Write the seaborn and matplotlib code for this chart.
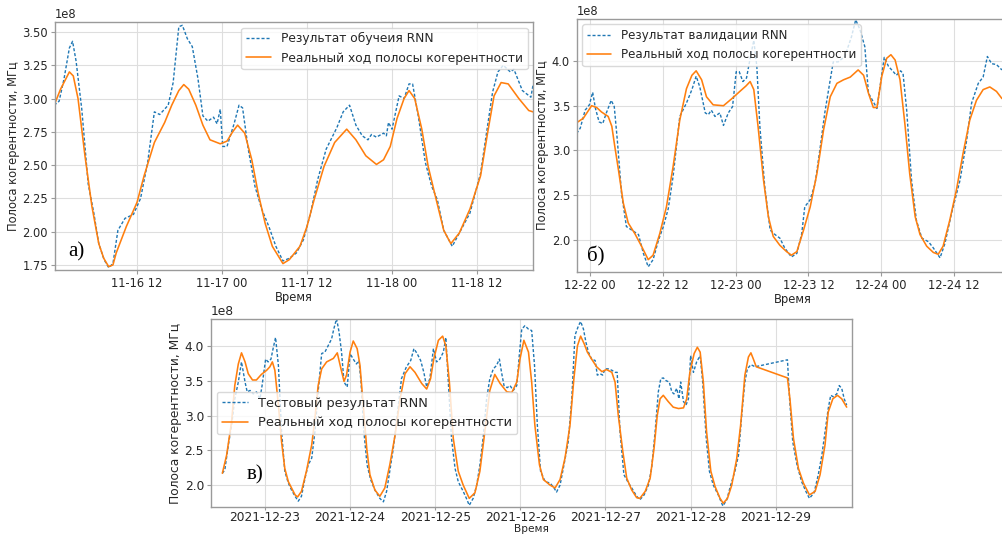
import matplotlib
matplotlib.use("Agg")
import numpy as np
import pandas as pd
import matplotlib.pyplot as plt
import matplotlib.dates as mdates
from matplotlib.ticker import MultipleLocator
import seaborn as sns

# ---------------- data (values in units of 1e8 MHz, time offsets in hours) ----------------
# Panel a: training, hours from 2021-11-16 00:00
a_rnn_h = [0.3, 1.0, 1.7, 2.45, 2.9, 3.4, 4.2, 5.1, 5.9, 6.6, 7.35, 8.0, 8.6, 9.3, 10.3,
           11.5, 12.5, 13.5, 14.45, 15.2, 16.4, 17.1, 17.9, 18.4, 19.1, 19.8, 20.6, 21.3, 22.0, 22.8,
           23.3, 23.75, 24.1, 24.7, 25.7, 26.4, 26.9, 27.7, 28.65, 29.6, 30.6, 31.6, 32.6, 33.5, 34.5,
           35.5, 36.5, 37.5, 38.7, 40.2, 41.1, 42.0, 42.9, 43.8, 44.6, 45.1, 45.8, 46.8, 47.2, 47.5,
           48.0, 49.0, 49.7, 50.4, 50.9, 51.7, 52.7, 53.6, 54.4, 55.3, 56.5, 57.5, 59.0, 60.5, 61.5,
           62.2, 62.95, 63.7, 64.7, 65.2, 66.4, 67.6, 67.9]
a_rnn_v = [2.95, 2.98, 3.15, 3.38, 3.43, 3.28, 2.92, 2.36, 2.14, 1.91, 1.79, 1.73, 1.76, 2.01, 2.10,
           2.13, 2.25, 2.52, 2.90, 2.88, 2.95, 3.12, 3.54, 3.55, 3.45, 3.39, 3.15, 2.87, 2.83, 2.86,
           2.81, 2.92, 2.64, 2.64, 2.81, 2.95, 2.93, 2.62, 2.34, 2.17, 2.04, 1.89, 1.78, 1.80, 1.84,
           1.94, 2.14, 2.39, 2.62, 2.78, 2.90, 2.95, 2.80, 2.72, 2.69, 2.73, 2.71, 2.74, 2.72, 2.82,
           2.77, 3.02, 3.00, 3.11, 3.11, 2.87, 2.52, 2.34, 2.24, 2.01, 1.89, 1.99, 2.14, 2.44, 2.80,
           3.05, 3.20, 3.25, 3.20, 3.22, 3.06, 3.01, 3.10]
a_real_h = [0.3, 1.2, 2.45, 3.0, 3.67, 4.65, 5.63, 6.6, 7.3, 8.0, 8.6, 9.06, 10.5, 12.0, 13.0,
            14.45, 15.9, 16.9, 17.9, 18.6, 19.3, 20.3, 21.3, 22.3, 23.75, 24.7, 25.5, 26.2, 27.2, 28.2,
            29.1, 30.1, 31.1, 32.6, 33.5, 35.0, 36.0, 37.0, 38.4, 39.9, 41.6, 42.9, 44.3, 45.8, 46.8,
            47.75, 48.7, 49.7, 50.4, 51.2, 52.2, 53.1, 54.1, 55.3, 56.3, 57.5, 59.0, 60.5, 61.5, 62.4,
            63.4, 64.4, 65.9, 67.3, 67.9]
a_real_v = [2.95, 3.07, 3.20, 3.17, 3.00, 2.57, 2.19, 1.91, 1.80, 1.737, 1.75, 1.84, 2.04, 2.22, 2.42,
            2.67, 2.82, 2.95, 3.06, 3.105, 3.07, 2.95, 2.80, 2.69, 2.66, 2.68, 2.75, 2.80, 2.74, 2.54,
            2.29, 2.06, 1.89, 1.76, 1.79, 1.89, 2.04, 2.24, 2.49, 2.67, 2.77, 2.69, 2.57, 2.505, 2.54,
            2.64, 2.85, 3.00, 3.06, 3.00, 2.77, 2.49, 2.27, 2.01, 1.91, 1.99, 2.17, 2.42, 2.745, 3.02,
            3.12, 3.11, 3.00, 2.91, 2.90]

# Panel b: validation, hours from 2021-12-22 00:00
b_rnn_h = [-2.2, -1.6, -0.8, -0.1, 0.44, 0.9, 1.5, 2.1, 2.7, 3.5, 4.0, 4.5, 5.2, 6.0, 6.9,
           8.0, 8.8, 9.6, 10.4, 11.3, 12.1, 12.9, 13.7, 14.8, 15.9, 16.8, 17.5, 18.1, 19.0, 19.5,
           20.0, 20.6, 21.4, 22.0, 22.8, 23.5, 24.1, 24.6, 25.2, 25.8, 26.4, 27.0, 27.5, 28.0, 28.8,
           29.7, 30.5, 31.3, 32.1, 33.2, 34.1, 34.9, 35.4, 36.3, 37.1, 37.9, 38.7, 39.6, 40.1, 40.9,
           42.0, 43.1, 43.8, 44.5, 45.3, 45.9, 46.4, 47.3, 47.8, 48.5, 49.2, 50.0, 50.5, 51.2, 51.6,
           52.2, 53.0, 53.8, 54.7, 55.8, 56.6, 57.7, 58.5, 59.6, 61.0, 62.1, 62.9, 64.0, 64.8, 65.5,
           66.2, 67.0, 67.9]
b_rnn_v = [3.19, 3.25, 3.45, 3.51, 3.65, 3.47, 3.32, 3.30, 3.42, 3.56, 3.49, 3.12, 2.52, 2.15, 2.11,
           2.06, 1.85, 1.70, 1.78, 2.00, 2.15, 2.35, 2.71, 3.38, 3.53, 3.68, 3.83, 3.71, 3.42, 3.40,
           3.45, 3.38, 3.42, 3.28, 3.42, 3.49, 3.88, 3.88, 3.77, 3.81, 4.03, 4.23, 3.94, 3.27, 2.60,
           2.11, 2.06, 2.02, 1.91, 1.81, 1.85, 2.07, 2.37, 2.45, 2.63, 3.01, 3.42, 3.79, 3.99, 3.99,
           4.05, 4.27, 4.46, 4.35, 4.16, 3.64, 3.58, 3.47, 3.71, 4.04, 3.94, 3.88, 3.84, 3.89, 3.86,
           3.45, 2.67, 2.22, 2.02, 1.98, 1.91, 1.80, 1.96, 2.30, 2.67, 3.12, 3.53, 3.75, 3.82, 4.05,
           3.97, 3.96, 3.90]
b_real_h = [-2.2, -1.1, 0.27, 1.1, 1.9, 3.0, 3.6, 4.1, 4.7, 5.5, 6.3, 7.4, 8.5, 9.6, 10.4,
            11.5, 12.6, 13.7, 14.8, 15.9, 16.8, 17.5, 18.4, 19.2, 20.3, 22.0, 23.4, 24.7, 25.7, 26.4,
            27.0, 27.7, 28.6, 29.4, 30.2, 31.3, 32.4, 33.2, 34.1, 35.2, 36.3, 37.4, 38.5, 39.6, 40.7,
            41.8, 42.9, 44.2, 45.1, 45.9, 46.7, 47.3, 48.1, 48.9, 49.6, 50.3, 51.1, 51.9, 52.7, 53.6,
            54.4, 55.5, 56.6, 57.4, 58.2, 59.3, 60.4, 61.5, 62.6, 63.7, 64.8, 65.9, 67.0, 67.9]
b_real_v = [3.31, 3.36, 3.50, 3.48, 3.43, 3.38, 3.27, 3.04, 2.78, 2.41, 2.19, 2.07, 1.93, 1.78, 1.83,
            2.07, 2.37, 2.82, 3.34, 3.69, 3.84, 3.89, 3.79, 3.60, 3.51, 3.50, 3.58, 3.66, 3.72, 3.77,
            3.68, 3.27, 2.67, 2.26, 2.04, 1.94, 1.87, 1.83, 1.87, 2.11, 2.37, 2.74, 3.23, 3.60, 3.75,
            3.79, 3.82, 3.90, 3.84, 3.64, 3.48, 3.48, 3.83, 4.03, 4.07, 4.01, 3.79, 3.30, 2.74, 2.26,
            2.06, 1.93, 1.86, 1.84, 1.93, 2.22, 2.56, 2.97, 3.34, 3.56, 3.68, 3.71, 3.66, 3.58]

# Panel c: test, hours from 2021-12-23 00:00
c_rnn_h = [-12.0, -11.3, -10.3, -9.4, -8.5, -7.5, -6.6, -5.6, -5.0, -4.2, -3.3, -2.4, -1.4, -0.8, 0.2,
           0.9, 1.7, 2.3, 3.0, 3.8, 4.7, 5.6, 6.6, 7.5, 8.5, 9.4, 10.3, 11.3, 12.2, 13.2,
           14.1, 15.0, 16.0, 16.9, 17.8, 18.8, 19.4, 20.2, 20.9, 21.6, 22.3, 23.2, 24.0, 24.9, 25.8,
           26.5, 27.1, 27.9, 28.8, 29.8, 31.0, 32.4, 33.4, 34.3, 35.2, 36.2, 37.3, 38.5, 39.9, 41.1,
           42.0, 42.9, 43.9, 44.8, 45.6, 46.5, 47.5, 48.4, 49.3, 50.3, 51.0, 51.7, 52.6, 53.6, 54.5,
           55.9, 56.8, 57.6, 58.7, 59.7, 60.6, 61.6, 62.5, 63.4, 64.4, 65.3, 66.1,
           66.7, 67.4, 68.3, 69.1, 70.0, 71.0, 71.7, 72.4, 73.3, 74.3, 75.2, 76.0, 76.8, 77.7, 79.0,
           80.4, 81.5, 82.2, 83.2, 84.3, 85.5, 86.5, 87.4, 88.4, 89.0, 89.8, 90.5, 91.2, 92.1, 93.1,
           93.7, 94.5, 95.2, 95.9, 96.8, 97.8, 98.7, 99.3, 100.1, 101.2, 102.5, 103.4, 104.8, 105.7, 106.9,
           108.1, 109.0, 110.0, 110.9, 111.6, 112.3, 113.1, 114.0, 114.7, 115.3, 116.1, 116.7, 117.2, 118.0, 118.7,
           119.4, 120.0, 120.8, 121.7, 122.7, 123.4, 124.4, 125.3, 126.4, 127.8, 129.1, 130.2, 131.3, 132.5, 133.5,
           134.4, 135.3, 136.0, 137.0, 138.2, 147.3, 147.9, 148.8, 150.0, 151.3, 152.5, 153.5, 154.8, 156.0, 157.0,
           157.9, 158.8, 159.5, 160.2, 161.2, 161.9, 162.6, 163.3, 164.0]
c_rnn_v = [2.17, 2.22, 2.58, 2.86, 3.24, 3.48, 3.77, 3.48, 3.34, 3.36, 3.31, 3.34, 3.24, 3.43, 3.81,
           3.77, 3.81, 3.96, 4.12, 3.72, 2.77, 2.20, 2.03, 1.93, 1.84, 1.77, 1.84, 2.10, 2.29, 2.39,
           2.77, 3.34, 3.89, 3.91, 4.00, 4.10, 4.24, 4.39, 4.20, 3.91, 3.48, 3.41, 3.89, 3.81, 3.74,
           3.79, 3.48, 2.77, 2.29, 2.08, 1.93, 1.81, 1.76, 1.91, 2.20, 2.53, 3.00, 3.53, 3.70, 3.79,
           3.96, 3.89, 3.79, 3.62, 3.41, 3.53, 3.96, 3.77, 3.81, 3.91, 4.12, 3.48, 2.67, 2.24, 2.05,
           1.91, 1.81, 1.71, 1.81, 2.00, 2.29, 2.72, 3.24, 3.53, 3.67, 3.72, 3.81,
           3.62, 3.43, 3.40, 3.43, 3.36, 3.43, 3.86, 4.24, 4.29, 4.24, 4.22, 3.72, 2.86, 2.20, 2.05,
           2.03, 1.96, 1.90, 2.00, 2.29, 2.62, 3.24, 4.15, 4.29, 4.35, 4.24, 4.05, 3.91, 3.81, 3.79,
           3.58, 3.60, 3.58, 3.67, 3.67, 3.65, 3.62, 3.62, 2.77, 2.15, 2.03, 1.96, 1.84, 1.79, 1.86,
           2.00, 2.24, 2.77, 3.34, 3.53, 3.54, 3.50, 3.48, 3.34, 3.31, 3.39, 3.24, 3.48, 3.20, 3.15,
           3.24, 3.86, 3.62, 3.77, 3.86, 3.48, 2.67, 2.20, 2.00, 1.86, 1.70, 1.79, 2.00, 2.20, 2.43,
           3.00, 3.48, 3.67, 3.73, 3.70, 3.80, 3.24, 2.62, 2.29, 2.05, 1.91, 1.81, 1.89, 2.15, 2.43,
           2.77, 3.10, 3.29, 3.27, 3.31, 3.43, 3.39, 3.24, 3.15]
c_real_h = [-12.0, -10.8, -9.4, -8.5, -7.5, -6.6, -5.6, -4.7, -3.5, -2.4, -1.0, 0.5, 1.4, 2.1, 2.8,
            3.8, 4.7, 5.6, 6.6, 7.5, 8.5, 9.2, 10.3, 11.7, 13.2, 14.1, 15.0, 16.0, 17.4, 19.3,
            20.4, 21.3, 22.3, 23.0, 24.0, 24.9, 26.0, 26.8, 27.7, 28.7, 29.6, 31.0, 32.4, 33.8, 35.2,
            36.7, 38.1, 39.5, 40.9, 42.3, 44.2, 45.6, 46.7, 47.6, 48.9, 50.1, 51.0, 52.0, 53.1, 54.5,
            55.9, 57.6, 59.2, 60.6, 62.0, 63.4, 64.8, 66.3,
            68.2, 69.6, 71.0, 71.9, 73.0, 74.3, 75.2, 76.1, 77.4, 78.5, 80.4, 81.8, 83.2, 84.6, 86.0,
            87.1, 88.1, 89.0, 90.0, 90.9, 92.1, 93.5, 95.0, 96.3, 97.8, 98.7, 99.6, 100.9, 102.0, 103.4,
            104.8, 105.7, 107.2, 108.6, 109.7, 110.6, 111.4, 112.3, 113.7, 115.1, 116.6, 118.0, 118.9, 119.8, 121.0,
            121.9, 122.7, 123.6, 124.5, 125.7, 126.9, 128.3, 129.2, 130.4, 131.6, 133.0, 134.1, 135.3, 136.3, 137.0,
            137.7, 138.5, 147.3, 148.0, 149.0, 150.4, 151.8, 153.5, 155.1, 156.5, 157.9, 158.8, 160.1, 161.4, 162.6,
            164.0]
c_real_v = [2.17, 2.43, 2.91, 3.43, 3.74, 3.90, 3.77, 3.60, 3.51, 3.51, 3.59, 3.65, 3.70, 3.77, 3.65,
            3.15, 2.62, 2.24, 2.05, 1.96, 1.86, 1.83, 1.91, 2.20, 2.58, 2.96, 3.43, 3.67, 3.77, 3.82,
            3.90, 3.70, 3.49, 3.58, 3.91, 4.07, 3.96, 3.72, 3.15, 2.53, 2.15, 1.93, 1.84, 1.96, 2.29,
            2.72, 3.24, 3.60, 3.70, 3.62, 3.46, 3.38, 3.53, 3.81, 4.08, 4.14, 4.00, 3.48, 2.67, 2.20,
            2.00, 1.81, 1.89, 2.20, 2.77, 3.36, 3.59, 3.46,
            3.34, 3.33, 3.48, 3.81, 4.08, 3.91, 3.48, 2.86, 2.29, 2.08, 2.00, 1.96, 2.08, 2.39, 2.86,
            3.53, 4.00, 4.14, 4.03, 3.91, 3.81, 3.70, 3.63, 3.66, 3.62, 3.48, 3.01, 2.48, 2.10, 1.93,
            1.82, 1.81, 1.91, 2.10, 2.53, 3.00, 3.24, 3.29, 3.20, 3.12, 3.10, 3.11, 3.24, 3.62, 3.89,
            3.98, 3.91, 3.48, 2.77, 2.20, 1.98, 1.81, 1.74, 1.81, 2.00, 2.38, 2.86, 3.58, 3.84, 3.90,
            3.81, 3.70, 3.54, 3.24, 2.67, 2.24, 2.03, 1.86, 1.91, 2.15, 2.58, 3.05, 3.24, 3.29, 3.24,
            3.12]

LABEL_RNN = ["Результат обучеия RNN", "Результат валидации RNN", "Тестовый результат RNN"]
LABEL_REAL = "Реальный ход полосы когерентности"
Y_LABEL = "Полоса когерентности, МГц"
X_LABEL = "Время"
PANEL_TAGS = ["а)", "б)", "в)"]

# ---------------- style ----------------
sns.set_style("whitegrid", {"axes.edgecolor": "#9a9a9a", "grid.color": "#dedede",
                            "xtick.bottom": True, "ytick.left": True})
plt.rcParams["font.family"] = ["DejaVu Sans"]
plt.rcParams["xtick.color"] = "#9a9a9a"
plt.rcParams["ytick.color"] = "#9a9a9a"
plt.rcParams["xtick.labelcolor"] = "#262626"
plt.rcParams["ytick.labelcolor"] = "#262626"

W, H = 1002, 534
fig = plt.figure(figsize=(W / 100, H / 100), dpi=100)
fig.patch.set_facecolor("white")


def box(x0, y0, x1, y1):
    return [x0 / W, 1 - y1 / H, (x1 - x0) / W, (y1 - y0) / H]


def series(base, hours, vals):
    t = pd.Timestamp(base) + pd.to_timedelta(np.asarray(hours, float), unit="h")
    return pd.DataFrame({"t": t, "v": np.asarray(vals, float) * 1e8})


BLUE, ORANGE = "#1f77b4", "#ff7f0e"

panels = [
    dict(base="2021-11-16", rnn=(a_rnn_h, a_rnn_v), real=(a_real_h, a_real_v),
         pos=box(55, 22, 533, 270), xl=(0.42, 67.9), yl=(1.712, 3.575), ystep=0.25,
         fmt="%m-%d %H", loc="upper right", fs=8.3, lfs=8.8, tag=(68, 252), tagfs=15,
         tlen=3, tpad=2),
    dict(base="2021-12-22", rnn=(b_rnn_h, b_rnn_v), real=(b_real_h, b_real_v),
         pos=box(577, 19, 1008, 272), xl=(-2.14, 68.9), yl=(1.642, 4.469), ystep=0.5,
         fmt="%m-%d %H", loc="upper left", fs=8.3, lfs=8.6, tag=(587, 256), tagfs=15,
         tlen=3, tpad=2),
    dict(base="2021-12-23", rnn=(c_rnn_h, c_rnn_v), real=(c_real_h, c_real_v),
         pos=box(211, 319, 852, 507), xl=(-15.2, 165.5), yl=(1.686, 4.386), ystep=0.5,
         fmt="%Y-%m-%d", loc="center left", fs=8.8, lfs=9.3, tag=(247, 475), tagfs=15,
         tlen=2, tpad=1),
]

for i, p in enumerate(panels):
    ax = fig.add_axes(p["pos"])
    d_rnn = series(p["base"], *p["rnn"])
    d_real = series(p["base"], *p["real"])
    sns.lineplot(data=d_rnn, x="t", y="v", ax=ax, color=BLUE, lw=1.0, dashes=False,
                 estimator=None, sort=False, label=LABEL_RNN[i])
    ax.lines[-1].set_dashes((2.2, 1.4))
    sns.lineplot(data=d_real, x="t", y="v", ax=ax, color=ORANGE, lw=1.15,
                 estimator=None, sort=False, label=LABEL_REAL)
    base = pd.Timestamp(p["base"])
    ax.set_xlim(base + pd.Timedelta(hours=p["xl"][0]), base + pd.Timedelta(hours=p["xl"][1]))
    ax.set_ylim(p["yl"][0] * 1e8, p["yl"][1] * 1e8)
    ax.yaxis.set_major_locator(MultipleLocator(p["ystep"] * 1e8))
    if i < 2:
        ax.xaxis.set_major_locator(mdates.HourLocator(byhour=[0, 12]))
    else:
        ax.xaxis.set_major_locator(mdates.DayLocator())
    ax.xaxis.set_major_formatter(mdates.DateFormatter(p["fmt"]))
    ax.tick_params(labelsize=p["fs"], width=0.8)
    ax.tick_params(axis="y", length=3, pad=2)
    ax.tick_params(axis="x", length=p["tlen"], pad=p["tpad"])
    ax.yaxis.get_offset_text().set_fontsize(p["fs"])
    ax.set_ylabel(Y_LABEL, fontsize=p["fs"], labelpad=2, color="#262626")
    if i < 2:
        ax.set_xlabel(X_LABEL, fontsize=p["fs"], labelpad=1, color="#262626")
    else:
        ax.set_xlabel("")
        fig.text((211 + 852) / 2 / W, 0.0, X_LABEL, fontsize=7.6,
                 ha="center", va="bottom", color="#262626")
    for s in ax.spines.values():
        s.set_linewidth(1.0)
    leg = ax.legend(loc=p["loc"], fontsize=p["lfs"], frameon=True, framealpha=0.8,
                    borderaxespad=0.45)
    leg.get_frame().set_edgecolor("#d0d0d0")
    leg.get_lines()[0].set_dashes((2.2, 1.4))
    fig.text(p["tag"][0] / W, 1 - p["tag"][1] / H, PANEL_TAGS[i], fontsize=p["tagfs"],
             family="Liberation Serif", ha="left", va="center", color="black")

fig.savefig("out.png", dpi=100)
